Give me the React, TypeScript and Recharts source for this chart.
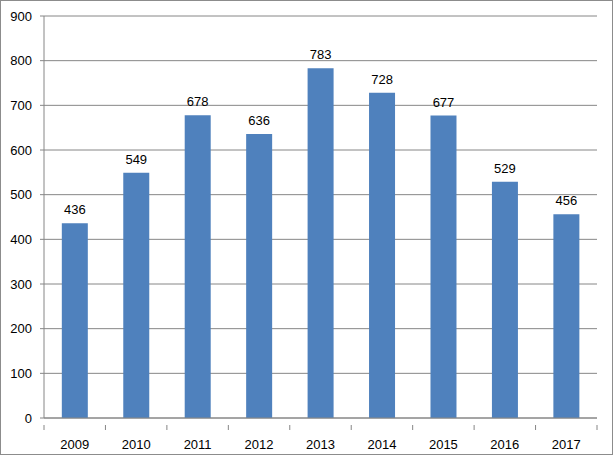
import { BarChart, Bar, XAxis, YAxis, CartesianGrid, LabelList } from "recharts";

const years = ["2009", "2010", "2011", "2012", "2013", "2014", "2015", "2016", "2017"];
const counts = [436, 549, 678, 636, 783, 728, 677, 529, 456];
const yTicks = [0, 100, 200, 300, 400, 500, 600, 700, 800, 900];

const data = years.map((year, i) => ({ year, count: counts[i] }));

const W = 613;
const H = 455;
const MARGIN = { top: 16, right: 16, bottom: 0, left: 0 };
const Y_AXIS_W = 44;
const X_AXIS_H = 37;
const GRAY = "#868686";
const FONT = "'Liberation Sans', Arial, sans-serif";
const FS = 13;

const bandHalf = (W - MARGIN.right - Y_AXIS_W) / years.length / 2;

function YearTick(props: any) {
  const { x, y, payload, index } = props;
  const isLast = index === years.length - 1;
  return (
    <g>
      <line x1={x - bandHalf} y1={y - 1} x2={x - bandHalf} y2={y + 4} stroke={GRAY} />
      {isLast && (
        <line x1={x + bandHalf} y1={y - 1} x2={x + bandHalf} y2={y + 4} stroke={GRAY} />
      )}
      <text x={x} y={y + 23} textAnchor="middle" fontSize={FS} fill="#000" fontFamily={FONT}>
        {payload.value}
      </text>
    </g>
  );
}

export default function App() {
  return (
    <div
      style={{
        position: "fixed",
        left: 0,
        top: 0,
        width: W,
        height: H,
        boxSizing: "border-box",
        border: "1px solid #8c8c8c",
        background: "#fff",
      }}
    >
      <div style={{ position: "absolute", left: -1, top: -1 }}>
        <BarChart width={W} height={H} data={data} margin={MARGIN} barCategoryGap="29%">
          <CartesianGrid vertical={false} stroke={GRAY} />
          <XAxis
            dataKey="year"
            height={X_AXIS_H}
            axisLine={{ stroke: GRAY }}
            tickLine={false}
            tick={<YearTick />}
            interval={0}
          />
          <YAxis
            width={Y_AXIS_W}
            domain={[0, 900]}
            ticks={yTicks}
            axisLine={{ stroke: GRAY }}
            tickLine={{ stroke: GRAY }}
            tickSize={4}
            tickMargin={8}
            tick={{ fontSize: FS, fill: "#000", fontFamily: FONT }}
          />
          <Bar dataKey="count" fill="#4F81BD" isAnimationActive={false}>
            <LabelList
              dataKey="count"
              position="top"
              offset={9}
              fontSize={FS}
              fill="#000"
              fontFamily={FONT}
            />
          </Bar>
        </BarChart>
      </div>
    </div>
  );
}
